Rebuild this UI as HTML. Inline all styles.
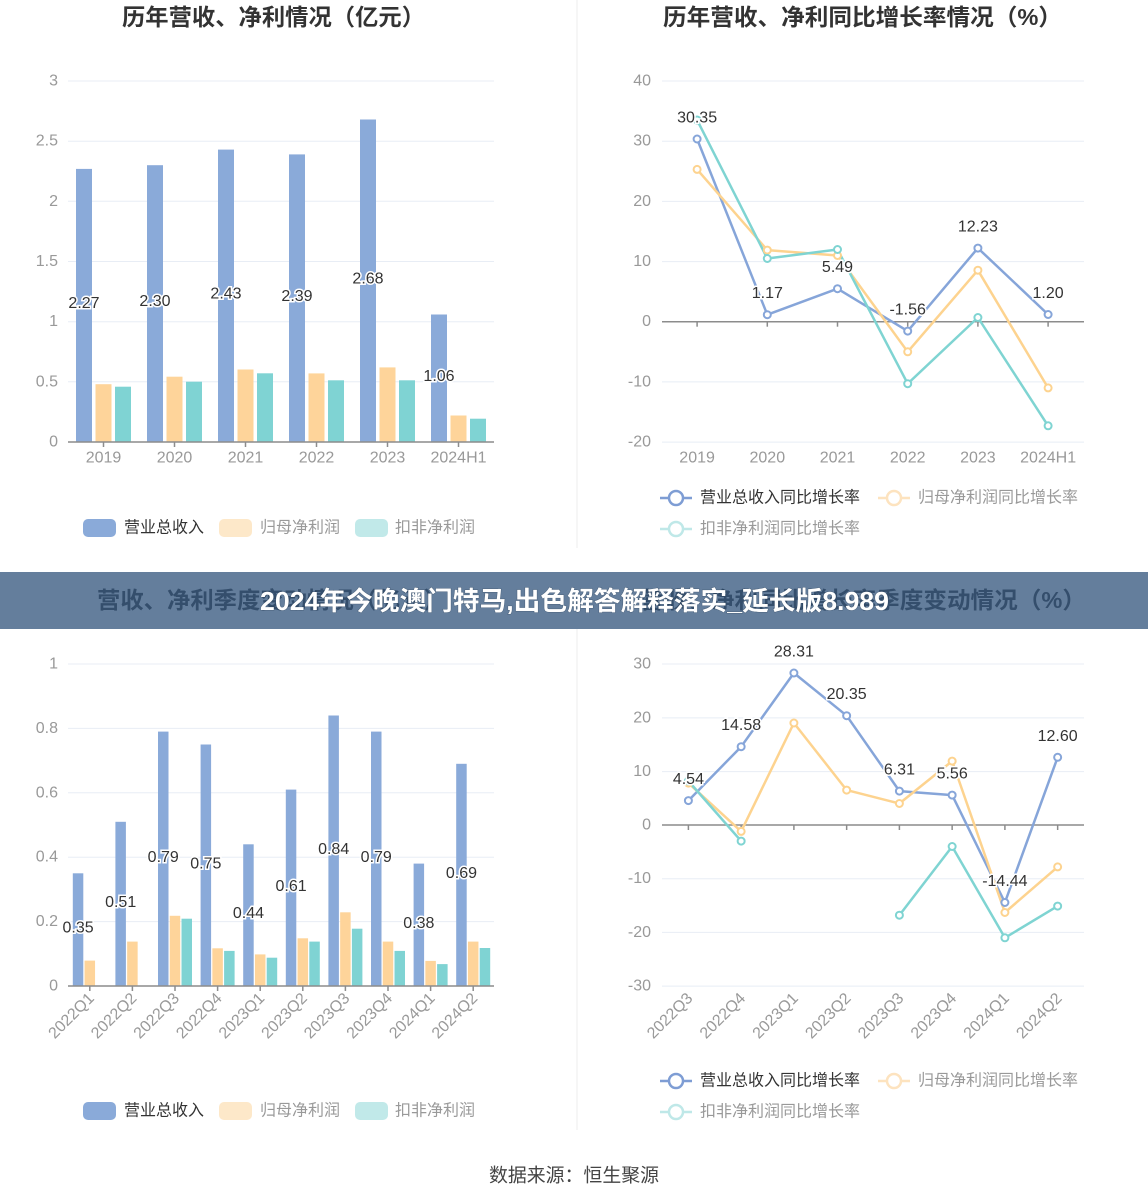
<!DOCTYPE html>
<html><head><meta charset="utf-8">
<style>
html,body{margin:0;padding:0;background:#fff;}
svg{display:block;}
text{font-family:"Liberation Sans","Noto Sans CJK SC",sans-serif;}
.title{font-size:23px;font-weight:bold;fill:#333;text-anchor:middle;}
.yt{font-size:16px;fill:#999;text-anchor:end;dominant-baseline:central;}
.xt{font-size:16px;fill:#999;text-anchor:middle;dominant-baseline:central;}
.xr{font-size:16px;fill:#999;text-anchor:end;dominant-baseline:central;}
.lbl{font-size:16px;fill:#333;stroke:#fff;stroke-width:3px;paint-order:stroke;text-anchor:middle;dominant-baseline:central;}
.lg{font-size:16px;dominant-baseline:central;}
.grid line{stroke:#e8edf5;stroke-width:1;}
.ax{stroke:#8c8c8c;stroke-width:1.5;}
.b{fill:#8aaad9;}
.o{fill:#fed49a;}
.c{fill:#7fd3d3;}
.lb{fill:none;stroke:#86a5d9;stroke-width:2.5;stroke-linejoin:round;}
.lo{fill:none;stroke:#fdd38f;stroke-width:2.5;stroke-linejoin:round;}
.lc{fill:none;stroke:#7fd4d2;stroke-width:2.5;stroke-linejoin:round;}
.mb circle{fill:#fff;stroke:#86a5d9;stroke-width:2;}
.mo circle{fill:#fff;stroke:#fdd38f;stroke-width:2;}
.mc circle{fill:#fff;stroke:#7fd4d2;stroke-width:2;}
</style></head>
<body>
<svg width="1148" height="1202" viewBox="0 0 1148 1202" xmlns="http://www.w3.org/2000/svg">
<rect width="1148" height="1202" fill="#fff"/>
<line x1="577" y1="0" x2="577" y2="548" stroke="#eeeeee" stroke-width="1"/>
<line x1="577" y1="629" x2="577" y2="1130" stroke="#eeeeee" stroke-width="1"/>

<!-- ============ TOP LEFT ============ -->
<text class="title" x="273.5" y="25" textLength="303" lengthAdjust="spacingAndGlyphs">历年营收、净利情况（亿元）</text>
<g class="grid">
<line x1="68" y1="81" x2="494" y2="81"/>
<line x1="68" y1="141.2" x2="494" y2="141.2"/>
<line x1="68" y1="201.3" x2="494" y2="201.3"/>
<line x1="68" y1="261.5" x2="494" y2="261.5"/>
<line x1="68" y1="321.7" x2="494" y2="321.7"/>
<line x1="68" y1="381.8" x2="494" y2="381.8"/>
</g>
<text class="yt" x="58" y="81">3</text>
<text class="yt" x="58" y="141.2">2.5</text>
<text class="yt" x="58" y="201.3">2</text>
<text class="yt" x="58" y="261.5">1.5</text>
<text class="yt" x="58" y="321.7">1</text>
<text class="yt" x="58" y="381.8">0.5</text>
<text class="yt" x="58" y="442">0</text>

<rect class="b" x="76" y="168.9" width="16" height="273.1"/>
<rect class="o" x="95.5" y="384.2" width="16" height="57.8"/>
<rect class="c" x="115" y="386.7" width="16" height="55.3"/>
<rect class="b" x="147" y="165.2" width="16" height="276.8"/>
<rect class="o" x="166.5" y="376.7" width="16" height="65.3"/>
<rect class="c" x="186" y="381.7" width="16" height="60.3"/>
<rect class="b" x="218" y="149.6" width="16" height="292.4"/>
<rect class="o" x="237.5" y="369.5" width="16" height="72.5"/>
<rect class="c" x="257" y="373.3" width="16" height="68.7"/>
<rect class="b" x="289" y="154.4" width="16" height="287.6"/>
<rect class="o" x="308.5" y="373.4" width="16" height="68.6"/>
<rect class="c" x="328" y="380.3" width="16" height="61.7"/>
<rect class="b" x="360" y="119.5" width="16" height="322.5"/>
<rect class="o" x="379.5" y="367.4" width="16" height="74.6"/>
<rect class="c" x="399" y="380.3" width="16" height="61.7"/>
<rect class="b" x="431" y="314.5" width="16" height="127.5"/>
<rect class="o" x="450.5" y="415.5" width="16" height="26.5"/>
<rect class="c" x="470" y="418.7" width="16" height="23.3"/>

<line class="ax" x1="68" y1="442" x2="494" y2="442"/>
<g class="ax">
<line x1="103.5" y1="442" x2="103.5" y2="447"/>
<line x1="174.5" y1="442" x2="174.5" y2="447"/>
<line x1="245.5" y1="442" x2="245.5" y2="447"/>
<line x1="316.5" y1="442" x2="316.5" y2="447"/>
<line x1="387.5" y1="442" x2="387.5" y2="447"/>
<line x1="458.5" y1="442" x2="458.5" y2="447"/>
</g>
<text class="xt" x="103.5" y="458">2019</text>
<text class="xt" x="174.5" y="458">2020</text>
<text class="xt" x="245.5" y="458">2021</text>
<text class="xt" x="316.5" y="458">2022</text>
<text class="xt" x="387.5" y="458">2023</text>
<text class="xt" x="458.5" y="458">2024H1</text>

<text class="lbl" x="84" y="303.5">2.27</text>
<text class="lbl" x="155" y="301.6">2.30</text>
<text class="lbl" x="226" y="294">2.43</text>
<text class="lbl" x="297" y="296.5">2.39</text>
<text class="lbl" x="368" y="279">2.68</text>
<text class="lbl" x="439" y="376.5">1.06</text>

<rect x="83" y="519" width="33" height="18" rx="5" fill="#8aaad9"/>
<text class="lg" x="124" y="528" fill="#333">营业总收入</text>
<rect x="219" y="519" width="33" height="18" rx="5" fill="#fde8c9"/>
<text class="lg" x="260" y="528" fill="#999">归母净利润</text>
<rect x="355" y="519" width="33" height="18" rx="5" fill="#c1e9e9"/>
<text class="lg" x="395" y="528" fill="#999">扣非净利润</text>

<!-- ============ TOP RIGHT ============ -->
<text class="title" x="862.5" y="25" textLength="399" lengthAdjust="spacingAndGlyphs">历年营收、净利同比增长率情况（%）</text>
<g class="grid">
<line x1="662" y1="81" x2="1084" y2="81"/>
<line x1="662" y1="141.2" x2="1084" y2="141.2"/>
<line x1="662" y1="201.4" x2="1084" y2="201.4"/>
<line x1="662" y1="261.6" x2="1084" y2="261.6"/>
<line x1="662" y1="381.9" x2="1084" y2="381.9"/>
<line x1="662" y1="442.1" x2="1084" y2="442.1"/>
</g>
<text class="yt" x="651" y="81">40</text>
<text class="yt" x="651" y="141.2">30</text>
<text class="yt" x="651" y="201.4">20</text>
<text class="yt" x="651" y="261.6">10</text>
<text class="yt" x="651" y="321.7">0</text>
<text class="yt" x="651" y="381.9">-10</text>
<text class="yt" x="651" y="442.1">-20</text>
<line class="ax" x1="662" y1="321.7" x2="1084" y2="321.7"/>
<g class="ax">
<line x1="697.1" y1="321.7" x2="697.1" y2="326.7"/>
<line x1="767.3" y1="321.7" x2="767.3" y2="326.7"/>
<line x1="837.5" y1="321.7" x2="837.5" y2="326.7"/>
<line x1="907.7" y1="321.7" x2="907.7" y2="326.7"/>
<line x1="977.9" y1="321.7" x2="977.9" y2="326.7"/>
<line x1="1048.1" y1="321.7" x2="1048.1" y2="326.7"/>
</g>
<text class="xt" x="697.1" y="458">2019</text>
<text class="xt" x="767.3" y="458">2020</text>
<text class="xt" x="837.5" y="458">2021</text>
<text class="xt" x="907.7" y="458">2022</text>
<text class="xt" x="977.9" y="458">2023</text>
<text class="xt" x="1048.1" y="458">2024H1</text>

<polyline class="lb" points="697.1,139 767.3,314.7 837.5,288.7 907.7,331.1 977.9,248.1 1048.1,314.5"/>
<polyline class="lo" points="697.1,169.4 767.3,250.1 837.5,255.5 907.7,351.8 977.9,270.2 1048.1,387.9"/>
<polyline class="lc" points="697.1,120 767.3,258.5 837.5,249.5 907.7,383.7 977.9,317.5 1048.1,425.8"/>
<g class="mb">
<circle cx="697.1" cy="139" r="3.5"/><circle cx="767.3" cy="314.7" r="3.5"/><circle cx="837.5" cy="288.7" r="3.5"/><circle cx="907.7" cy="331.1" r="3.5"/><circle cx="977.9" cy="248.1" r="3.5"/><circle cx="1048.1" cy="314.5" r="3.5"/>
</g>
<g class="mo">
<circle cx="697.1" cy="169.4" r="3.5"/><circle cx="767.3" cy="250.1" r="3.5"/><circle cx="837.5" cy="255.5" r="3.5"/><circle cx="907.7" cy="351.8" r="3.5"/><circle cx="977.9" cy="270.2" r="3.5"/><circle cx="1048.1" cy="387.9" r="3.5"/>
</g>
<g class="mc">
<circle cx="697.1" cy="120" r="3.5"/><circle cx="767.3" cy="258.5" r="3.5"/><circle cx="837.5" cy="249.5" r="3.5"/><circle cx="907.7" cy="383.7" r="3.5"/><circle cx="977.9" cy="317.5" r="3.5"/><circle cx="1048.1" cy="425.8" r="3.5"/>
</g>
<text class="lbl" x="697.1" y="118">30.35</text>
<text class="lbl" x="767.3" y="293.7">1.17</text>
<text class="lbl" x="837.5" y="267.7">5.49</text>
<text class="lbl" x="907.7" y="310.1">-1.56</text>
<text class="lbl" x="977.9" y="227.1">12.23</text>
<text class="lbl" x="1048.1" y="293.5">1.20</text>

<line x1="660" y1="498" x2="692" y2="498" stroke="#7e9dd4" stroke-width="2.5"/>
<circle cx="676" cy="498" r="7" fill="#fff" stroke="#7e9dd4" stroke-width="2.5"/>
<text class="lg" x="700" y="498" fill="#333">营业总收入同比增长率</text>
<line x1="878" y1="498" x2="910" y2="498" stroke="#fde3bf" stroke-width="2.5"/>
<circle cx="894" cy="498" r="7" fill="#fff" stroke="#fde3bf" stroke-width="2.5"/>
<text class="lg" x="918" y="498" fill="#999">归母净利润同比增长率</text>
<line x1="660" y1="529" x2="692" y2="529" stroke="#bfe8e8" stroke-width="2.5"/>
<circle cx="676" cy="529" r="7" fill="#fff" stroke="#bfe8e8" stroke-width="2.5"/>
<text class="lg" x="700" y="529" fill="#999">扣非净利润同比增长率</text>

<!-- ============ BOTTOM LEFT ============ -->
<text class="title" x="97" y="608" style="text-anchor:start" textLength="350" lengthAdjust="spacingAndGlyphs">营收、净利季度变动情况（亿元）</text>
<text class="title" x="1086" y="608" style="text-anchor:end" textLength="446" lengthAdjust="spacingAndGlyphs">营收、净利同比增长率季度变动情况（%）</text>

<g class="grid">
<line x1="68" y1="664" x2="494" y2="664"/>
<line x1="68" y1="728.4" x2="494" y2="728.4"/>
<line x1="68" y1="792.8" x2="494" y2="792.8"/>
<line x1="68" y1="857.2" x2="494" y2="857.2"/>
<line x1="68" y1="921.6" x2="494" y2="921.6"/>
</g>
<text class="yt" x="58" y="664">1</text>
<text class="yt" x="58" y="728.4">0.8</text>
<text class="yt" x="58" y="792.8">0.6</text>
<text class="yt" x="58" y="857.2">0.4</text>
<text class="yt" x="58" y="921.6">0.2</text>
<text class="yt" x="58" y="986">0</text>

<rect class="b" x="72.8" y="873.3" width="10.5" height="112.7"/>
<rect class="o" x="84.55" y="960.6" width="10.5" height="25.4"/>
<rect class="b" x="115.4" y="821.8" width="10.5" height="164.2"/>
<rect class="o" x="127.15" y="941.6" width="10.5" height="44.4"/>
<rect class="b" x="158" y="731.6" width="10.5" height="254.4"/>
<rect class="o" x="169.75" y="915.8" width="10.5" height="70.2"/>
<rect class="c" x="181.5" y="918.7" width="10.5" height="67.3"/>
<rect class="b" x="200.6" y="744.5" width="10.5" height="241.5"/>
<rect class="o" x="212.35" y="948.3" width="10.5" height="37.7"/>
<rect class="c" x="224.1" y="950.9" width="10.5" height="35.1"/>
<rect class="b" x="243.2" y="844.3" width="10.5" height="141.7"/>
<rect class="o" x="254.95" y="954.4" width="10.5" height="31.6"/>
<rect class="c" x="266.7" y="957.7" width="10.5" height="28.3"/>
<rect class="b" x="285.8" y="789.6" width="10.5" height="196.4"/>
<rect class="o" x="297.55" y="938.3" width="10.5" height="47.7"/>
<rect class="c" x="309.3" y="941.6" width="10.5" height="44.4"/>
<rect class="b" x="328.4" y="715.5" width="10.5" height="270.5"/>
<rect class="o" x="340.15" y="912.3" width="10.5" height="73.7"/>
<rect class="c" x="351.9" y="928.7" width="10.5" height="57.3"/>
<rect class="b" x="371" y="731.6" width="10.5" height="254.4"/>
<rect class="o" x="382.75" y="941.6" width="10.5" height="44.4"/>
<rect class="c" x="394.5" y="950.9" width="10.5" height="35.1"/>
<rect class="b" x="413.6" y="863.6" width="10.5" height="122.4"/>
<rect class="o" x="425.35" y="960.9" width="10.5" height="25.1"/>
<rect class="c" x="437.1" y="964.1" width="10.5" height="21.9"/>
<rect class="b" x="456.2" y="763.8" width="10.5" height="222.2"/>
<rect class="o" x="467.95" y="941.6" width="10.5" height="44.4"/>
<rect class="c" x="479.7" y="948" width="10.5" height="38"/>

<line class="ax" x1="68" y1="986" x2="494" y2="986"/>
<g class="ax">
<line x1="89.8" y1="986" x2="89.8" y2="991"/>
<line x1="132.4" y1="986" x2="132.4" y2="991"/>
<line x1="175" y1="986" x2="175" y2="991"/>
<line x1="217.6" y1="986" x2="217.6" y2="991"/>
<line x1="260.2" y1="986" x2="260.2" y2="991"/>
<line x1="302.8" y1="986" x2="302.8" y2="991"/>
<line x1="345.4" y1="986" x2="345.4" y2="991"/>
<line x1="388" y1="986" x2="388" y2="991"/>
<line x1="430.6" y1="986" x2="430.6" y2="991"/>
<line x1="473.2" y1="986" x2="473.2" y2="991"/>
</g>
<text class="xr" x="91.8" y="996" transform="rotate(-45 91.8 996)">2022Q1</text>
<text class="xr" x="134.4" y="996" transform="rotate(-45 134.4 996)">2022Q2</text>
<text class="xr" x="177" y="996" transform="rotate(-45 177 996)">2022Q3</text>
<text class="xr" x="219.6" y="996" transform="rotate(-45 219.6 996)">2022Q4</text>
<text class="xr" x="262.2" y="996" transform="rotate(-45 262.2 996)">2023Q1</text>
<text class="xr" x="304.8" y="996" transform="rotate(-45 304.8 996)">2023Q2</text>
<text class="xr" x="347.4" y="996" transform="rotate(-45 347.4 996)">2023Q3</text>
<text class="xr" x="390" y="996" transform="rotate(-45 390 996)">2023Q4</text>
<text class="xr" x="432.6" y="996" transform="rotate(-45 432.6 996)">2024Q1</text>
<text class="xr" x="475.2" y="996" transform="rotate(-45 475.2 996)">2024Q2</text>

<text class="lbl" x="78.05" y="928.2">0.35</text>
<text class="lbl" x="120.65" y="902.4">0.51</text>
<text class="lbl" x="163.25" y="857.3">0.79</text>
<text class="lbl" x="205.85" y="863.8">0.75</text>
<text class="lbl" x="248.45" y="913.7">0.44</text>
<text class="lbl" x="291.05" y="886.3">0.61</text>
<text class="lbl" x="333.65" y="849.3">0.84</text>
<text class="lbl" x="376.25" y="857.3">0.79</text>
<text class="lbl" x="418.85" y="923.3">0.38</text>
<text class="lbl" x="461.45" y="873.4">0.69</text>

<rect x="83" y="1102" width="33" height="18" rx="5" fill="#8aaad9"/>
<text class="lg" x="124" y="1111" fill="#333">营业总收入</text>
<rect x="219" y="1102" width="33" height="18" rx="5" fill="#fde8c9"/>
<text class="lg" x="260" y="1111" fill="#999">归母净利润</text>
<rect x="355" y="1102" width="33" height="18" rx="5" fill="#c1e9e9"/>
<text class="lg" x="395" y="1111" fill="#999">扣非净利润</text>

<!-- ============ BOTTOM RIGHT ============ -->
<g class="grid">
<line x1="662" y1="664" x2="1084" y2="664"/>
<line x1="662" y1="717.9" x2="1084" y2="717.9"/>
<line x1="662" y1="771.6" x2="1084" y2="771.6"/>
<line x1="662" y1="878.7" x2="1084" y2="878.7"/>
<line x1="662" y1="932.4" x2="1084" y2="932.4"/>
<line x1="662" y1="986.1" x2="1084" y2="986.1"/>
</g>
<text class="yt" x="651" y="664">30</text>
<text class="yt" x="651" y="717.9">20</text>
<text class="yt" x="651" y="771.6">10</text>
<text class="yt" x="651" y="825">0</text>
<text class="yt" x="651" y="878.7">-10</text>
<text class="yt" x="651" y="932.4">-20</text>
<text class="yt" x="651" y="986.1">-30</text>
<line class="ax" x1="662" y1="825" x2="1084" y2="825"/>
<g class="ax">
<line x1="688.4" y1="825" x2="688.4" y2="830"/>
<line x1="741.15" y1="825" x2="741.15" y2="830"/>
<line x1="793.9" y1="825" x2="793.9" y2="830"/>
<line x1="846.65" y1="825" x2="846.65" y2="830"/>
<line x1="899.4" y1="825" x2="899.4" y2="830"/>
<line x1="952.15" y1="825" x2="952.15" y2="830"/>
<line x1="1004.9" y1="825" x2="1004.9" y2="830"/>
<line x1="1057.65" y1="825" x2="1057.65" y2="830"/>
</g>
<text class="xr" x="690.4" y="996" transform="rotate(-45 690.4 996)">2022Q3</text>
<text class="xr" x="743.15" y="996" transform="rotate(-45 743.15 996)">2022Q4</text>
<text class="xr" x="795.9" y="996" transform="rotate(-45 795.9 996)">2023Q1</text>
<text class="xr" x="848.65" y="996" transform="rotate(-45 848.65 996)">2023Q2</text>
<text class="xr" x="901.4" y="996" transform="rotate(-45 901.4 996)">2023Q3</text>
<text class="xr" x="954.15" y="996" transform="rotate(-45 954.15 996)">2023Q4</text>
<text class="xr" x="1006.9" y="996" transform="rotate(-45 1006.9 996)">2024Q1</text>
<text class="xr" x="1059.65" y="996" transform="rotate(-45 1059.65 996)">2024Q2</text>

<polyline class="lb" points="688.4,800.6 741.15,746.7 793.9,673 846.65,715.7 899.4,791.1 952.15,795.1 1004.9,902.5 1057.65,757.3"/>
<polyline class="lo" points="688.4,783.1 741.15,831.4 793.9,723 846.65,790.1 899.4,803.5 952.15,761.1 1004.9,912.5 1057.65,866.9"/>
<polyline class="lc" points="688.4,781 741.15,841.1"/>
<polyline class="lc" points="899.4,915.2 952.15,846.5 1004.9,937.8 1057.65,906.1"/>
<g class="mb">
<circle cx="688.4" cy="800.6" r="3.5"/><circle cx="741.15" cy="746.7" r="3.5"/><circle cx="793.9" cy="673" r="3.5"/><circle cx="846.65" cy="715.7" r="3.5"/><circle cx="899.4" cy="791.1" r="3.5"/><circle cx="952.15" cy="795.1" r="3.5"/><circle cx="1004.9" cy="902.5" r="3.5"/><circle cx="1057.65" cy="757.3" r="3.5"/>
</g>
<g class="mo">
<circle cx="688.4" cy="783.1" r="3.5"/><circle cx="741.15" cy="831.4" r="3.5"/><circle cx="793.9" cy="723" r="3.5"/><circle cx="846.65" cy="790.1" r="3.5"/><circle cx="899.4" cy="803.5" r="3.5"/><circle cx="952.15" cy="761.1" r="3.5"/><circle cx="1004.9" cy="912.5" r="3.5"/><circle cx="1057.65" cy="866.9" r="3.5"/>
</g>
<g class="mc">
<circle cx="688.4" cy="781" r="3.5"/><circle cx="741.15" cy="841.1" r="3.5"/><circle cx="899.4" cy="915.2" r="3.5"/><circle cx="952.15" cy="846.5" r="3.5"/><circle cx="1004.9" cy="937.8" r="3.5"/><circle cx="1057.65" cy="906.1" r="3.5"/>
</g>
<text class="lbl" x="688.4" y="779.6">4.54</text>
<text class="lbl" x="741.15" y="725.7">14.58</text>
<text class="lbl" x="793.9" y="652">28.31</text>
<text class="lbl" x="846.65" y="694.7">20.35</text>
<text class="lbl" x="899.4" y="770.1">6.31</text>
<text class="lbl" x="952.15" y="774.1">5.56</text>
<text class="lbl" x="1004.9" y="881.5">-14.44</text>
<text class="lbl" x="1057.65" y="736.3">12.60</text>

<line x1="660" y1="1081" x2="692" y2="1081" stroke="#7e9dd4" stroke-width="2.5"/>
<circle cx="676" cy="1081" r="7" fill="#fff" stroke="#7e9dd4" stroke-width="2.5"/>
<text class="lg" x="700" y="1081" fill="#333">营业总收入同比增长率</text>
<line x1="878" y1="1081" x2="910" y2="1081" stroke="#fde3bf" stroke-width="2.5"/>
<circle cx="894" cy="1081" r="7" fill="#fff" stroke="#fde3bf" stroke-width="2.5"/>
<text class="lg" x="918" y="1081" fill="#999">归母净利润同比增长率</text>
<line x1="660" y1="1112" x2="692" y2="1112" stroke="#bfe8e8" stroke-width="2.5"/>
<circle cx="676" cy="1112" r="7" fill="#fff" stroke="#bfe8e8" stroke-width="2.5"/>
<text class="lg" x="700" y="1112" fill="#999">扣非净利润同比增长率</text>

<!-- ============ BANNER ============ -->
<rect x="0" y="572" width="1148" height="57" fill="rgb(52,86,125)" fill-opacity="0.765"/>
<text x="574.5" y="610" style="font-size:26px;font-weight:bold;fill:#fff;text-anchor:middle;stroke:rgba(30,45,65,0.35);stroke-width:1px;paint-order:stroke;" textLength="629" lengthAdjust="spacingAndGlyphs">2024年今晚澳门特马,出色解答解释落实_延长版8.989</text>

<!-- ============ FOOTER ============ -->
<text x="574" y="1176" style="font-size:19px;fill:#444;text-anchor:middle;dominant-baseline:central;" textLength="170" lengthAdjust="spacingAndGlyphs">数据来源：恒生聚源</text>
</svg>
</body></html>
